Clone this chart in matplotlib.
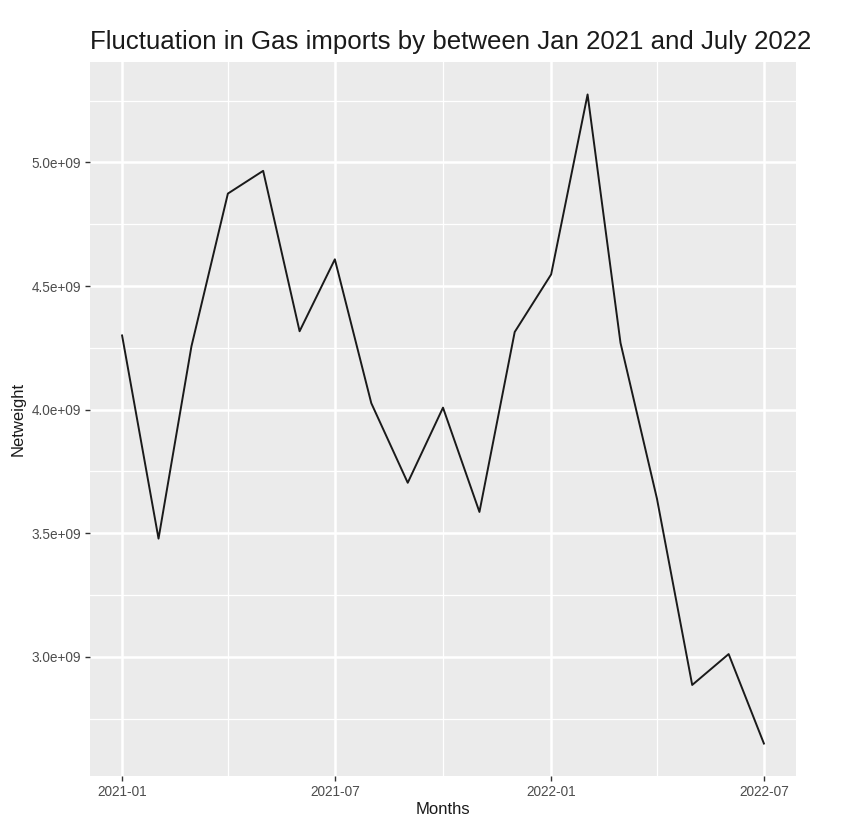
import matplotlib
matplotlib.use("Agg")
import matplotlib.pyplot as plt
import matplotlib.dates as mdates
import numpy as np
import datetime as dt

months = ["2021-01", "2021-02", "2021-03", "2021-04", "2021-05", "2021-06", "2021-07",
          "2021-08", "2021-09", "2021-10", "2021-11", "2021-12", "2022-01", "2022-02",
          "2022-03", "2022-04", "2022-05", "2022-06", "2022-07"]
netweight = [4.30e9, 3.478e9, 4.256e9, 4.874e9, 4.966e9, 4.317e9, 4.608e9,
             4.026e9, 3.704e9, 4.008e9, 3.586e9, 4.314e9, 4.547e9, 5.275e9,
             4.27e9, 3.64e9, 2.886e9, 3.011e9, 2.649e9]
x_tick_labels = ["2021-01", "2021-07", "2022-01", "2022-07"]
y_ticks = [3.0e9, 3.5e9, 4.0e9, 4.5e9, 5.0e9]
y_minor = [2.75e9, 3.25e9, 3.75e9, 4.25e9, 4.75e9, 5.25e9]
x_minor_labels = ["2021-04", "2021-10", "2022-04"]

def to_date(s):
    y, m = s.split("-")
    return dt.datetime(int(y), int(m), 1)

dates = [to_date(m) for m in months]
xt = [to_date(m) for m in x_tick_labels]
xm = [to_date(m) for m in x_minor_labels]

plt.rcParams["font.family"] = ["Liberation Sans", "DejaVu Sans"]

fig = plt.figure(figsize=(8.46, 8.22), dpi=100)
ax = fig.add_axes([90/846, 1-776/822, (796-90)/846, (776-62)/822])
ax.set_facecolor("#EBEBEB")

ax.plot(dates, netweight, color="#1a1a1a", linewidth=1.4, zorder=3)

# limits with ggplot 5% expansion
xn = mdates.date2num(dates)
span = xn[-1] - xn[0]
ax.set_xlim(xn[0] - 0.05*span, xn[-1] + 0.05*span)
vmin, vmax = min(netweight), max(netweight)
ax.set_ylim(vmin - 0.05*(vmax-vmin), vmax + 0.05*(vmax-vmin))

ax.set_xticks(xt)
ax.set_xticklabels(x_tick_labels)
ax.set_xticks(xm, minor=True)
ax.set_yticks(y_ticks)
ax.set_yticklabels(["%.1fe+09" % (v/1e9) for v in y_ticks])
ax.set_yticks(y_minor, minor=True)

ax.grid(which="major", color="white", linewidth=1.8, zorder=1)
ax.grid(which="minor", color="white", linewidth=0.9, zorder=1)
ax.set_axisbelow(True)

for s in ax.spines.values():
    s.set_visible(False)

ax.tick_params(axis="both", which="major", length=3.5, width=1.0, color="#333333",
               labelcolor="#4D4D4D", labelsize=9.8, pad=3)
ax.tick_params(axis="both", which="minor", length=0)

ax.set_xlabel("Months", fontsize=12, color="#1a1a1a", labelpad=2)
ax.set_ylabel("Netweight", fontsize=12, color="#1a1a1a", labelpad=4)
ax.set_title("Fluctuation in Gas imports by between Jan 2021 and July 2022",
             fontsize=18.6, loc="left", pad=9, color="#1a1a1a")
ax.title.set_position((2/706, 1.0))

fig.savefig("out.png", dpi=100, facecolor="white")
